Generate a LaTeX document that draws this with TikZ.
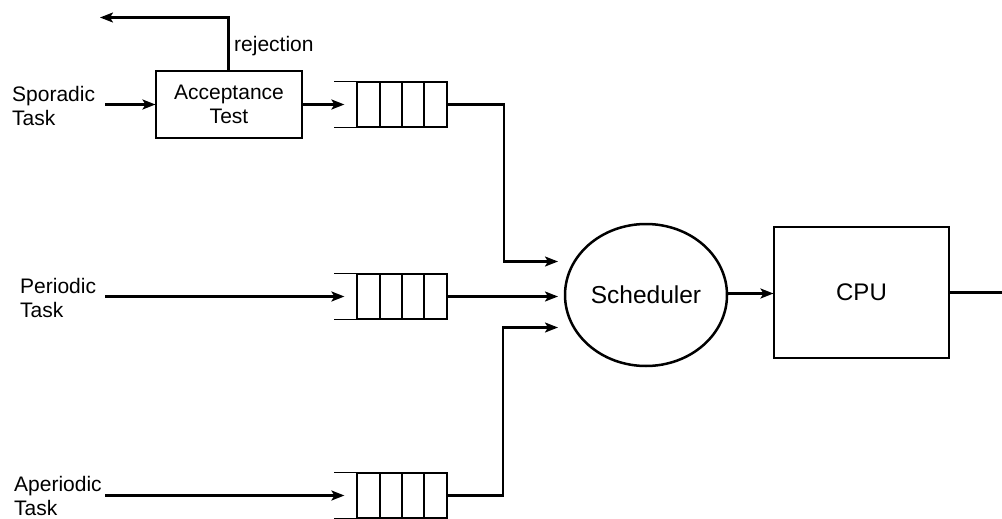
\documentclass[tikz,border=0pt]{standalone}
\usepackage{fontspec}
\setmainfont{Liberation Sans}
\usetikzlibrary{arrows.meta,shapes.geometric}
\begin{document}
\begin{tikzpicture}[x=1pt,y=-1pt,
  every node/.style={font=\fontsize{21}{23.5}\selectfont},
  lbl/.style={anchor=west,align=left,inner sep=0pt},
  box/.style={draw,line width=1.1pt,inner sep=0pt},
  queue/.style={draw,line width=1.2pt,inner sep=0pt,minimum width=90pt,minimum height=45pt,
    path picture={\foreach \dx in {-22,0,22}
      \draw[line width=1.2pt] ([xshift=\dx pt]path picture bounding box.north) -- ([xshift=\dx pt]path picture bounding box.south);}},
  conn/.style={line width=2.2pt,-{Stealth[length=13pt,width=10pt,inset=3pt]}},
  plain/.style={line width=2.2pt}]
\useasboundingbox (0,0) rectangle (1002,519);

% task sources
\node[lbl] (spor) at (12,106) {Sporadic\\Task};
\node[lbl] (peri) at (20,298) {Periodic\\Task};
\node[lbl] (aper) at (14,496) {Aperiodic\\Task};
\coordinate (sporin) at (105,104.5);
\coordinate (periin) at (105,296.5);
\coordinate (aperin) at (105,495.5);

% acceptance test for sporadic tasks
\node[box,minimum width=146pt,minimum height=67pt,align=center] (acc) at (229,104.5) {Acceptance\\Test};
\coordinate (rej) at (100,17.5);
\node[lbl] (rejl) at (234,46) {rejection};

% ready queues
\node[queue] (q1) at (402,104.5) {};
\node[queue] (q2) at (402,296.5) {};
\node[queue] (q3) at (402,495.5) {};
\foreach \q in {q1,q2,q3}{
  \draw[line width=1.2pt] (\q.north west) -- ++(-22,0);
  \draw[line width=1.2pt] (\q.south west) -- ++(-22,0);
}

% scheduler and processor
\node[draw,ellipse,line width=2.5pt,minimum width=162pt,minimum height=142pt,inner sep=0pt,
  font=\fontsize{24.5}{28}\selectfont] (sched) at (646,295) {Scheduler};
\node[box,minimum width=175pt,minimum height=131pt,font=\fontsize{24}{28}\selectfont] (cpu) at (861.5,292.5) {CPU};
\coordinate (s1) at (558,261.5);
\coordinate (s3) at (558,327.5);
\coordinate (out) at (1002,292.5);

% connectors
\draw[conn] (sporin) -- (acc.west);
\draw[conn] ([xshift=-0.5pt]acc.north) |- (rej);
\draw[conn] (acc.east) -- ([xshift=-12pt]q1.west);
\draw[conn] (periin) -- ([xshift=-12pt]q2.west);
\draw[conn] (aperin) -- ([xshift=-12pt]q3.west);
\draw[conn] (q1.east) -- ++(56.5,0) |- (s1);
\draw[conn] (q2.east) -- (558,296.5);
\draw[conn] (q3.east) -- ++(55.5,0) |- (s3);
\draw[conn] ([yshift=1.5pt]sched.east) -- ([yshift=1.5pt]sched.east -| cpu.west);
\draw[plain] (cpu.east) -- (out);
\end{tikzpicture}
\end{document}
